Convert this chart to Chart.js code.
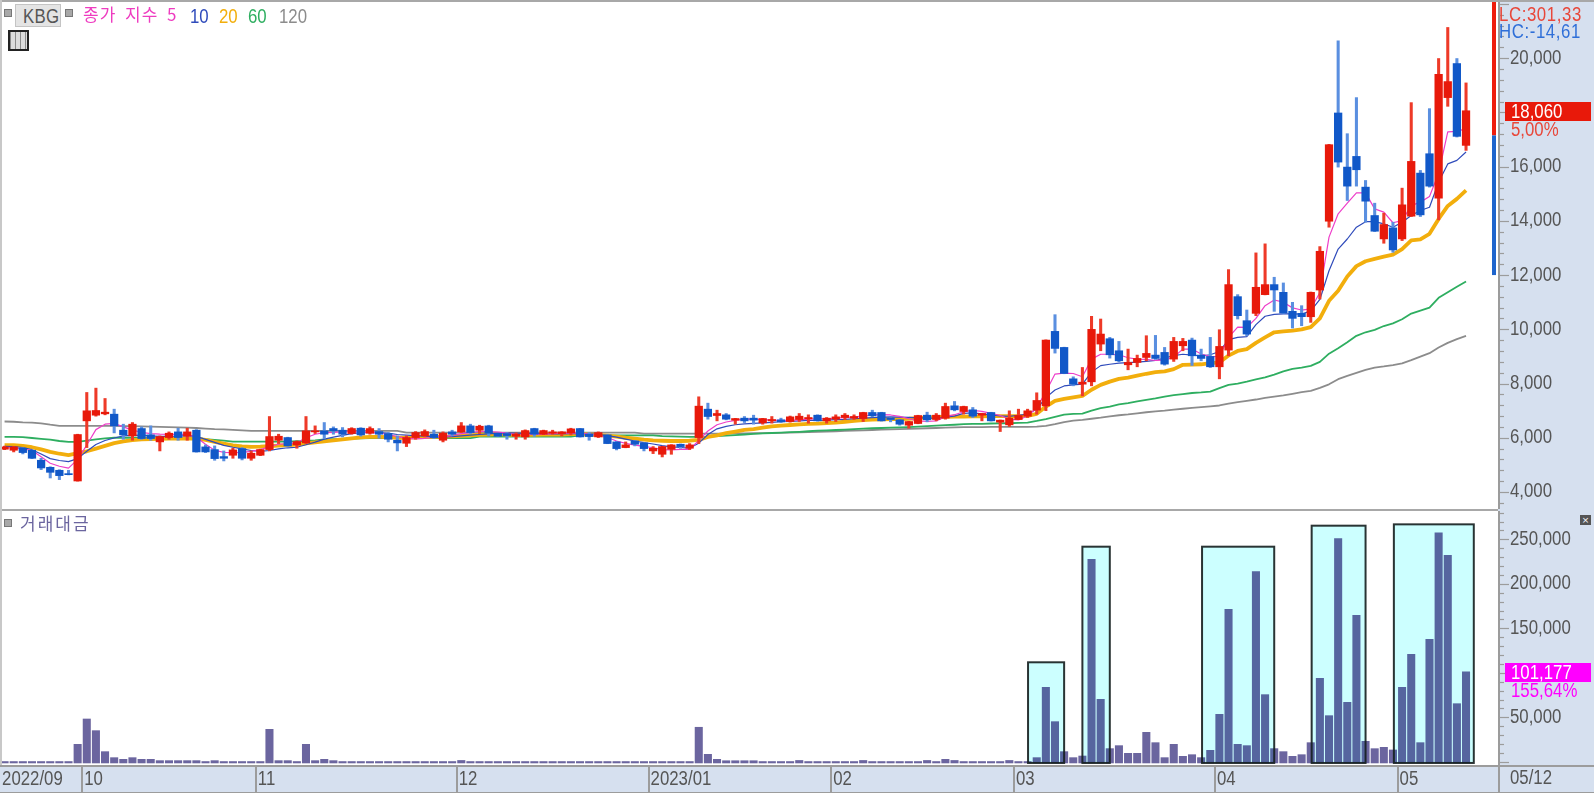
<!DOCTYPE html>
<html lang="ko">
<head>
<meta charset="utf-8">
<title>KBG</title>
<script src="https://cdn.jsdelivr.net/npm/chart.js@4"></script>
<style>
html,body{margin:0;padding:0;background:#D6E0EF;width:1594px;height:793px;overflow:hidden}
canvas{position:absolute;left:0;display:block}
.t{position:absolute;white-space:nowrap;line-height:1}
.n{font-family:"Liberation Sans",sans-serif;font-size:20px;transform:scaleX(.84);transform-origin:0 50%}
.k{font-family:"Noto Sans CJK KR",sans-serif;font-size:17px}
.sq{position:absolute;width:6px;height:6px;background:#a8a8a8;border:1px solid #777}
</style>
</head>
<body>
<canvas id="top" style="top:0" width="1594" height="510"></canvas>
<canvas id="bot" style="top:509px" width="1594" height="284"></canvas>
<div style="position:absolute;left:0;top:0;width:1594px;height:2px;background:#a8a8a8"></div>
<div style="position:absolute;left:0;top:509px;width:1498px;height:2px;background:#a8a8a8"></div>
<div style="position:absolute;left:0;top:0;width:1.5px;height:765px;background:#c8c8c8"></div>
<div class="sq" style="left:4px;top:9px"></div>
<div style="position:absolute;left:15px;top:4px;width:44px;height:21px;background:#e4e4e4;border:1px solid #c4c4c4"></div>
<div class="t n" style="left:23px;top:6px;color:#555;letter-spacing:.3px">KBG</div>
<div class="sq" style="left:65px;top:9px"></div>
<div class="t k" style="left:83px;top:5px;color:#EE3CC0;letter-spacing:1px;word-spacing:3px">종가 지수 5</div>
<div class="t n" style="left:190px;top:6px;color:#2F4BBB">10</div>
<div class="t n" style="left:219px;top:6px;color:#F2AE0C">20</div>
<div class="t n" style="left:248px;top:6px;color:#2EAE60">60</div>
<div class="t n" style="left:279px;top:6px;color:#8C8C8C">120</div>
<div style="position:absolute;left:8px;top:30px;width:17px;height:17px;border:2px solid #222;background:repeating-linear-gradient(90deg,#8a8a8a 0 1px,#dcdcdc 1px 5px)"></div>
<div class="sq" style="left:4px;top:519px"></div>
<div class="t k" style="left:20px;top:514px;color:#6B659F;letter-spacing:2px">거래대금</div>
<div style="position:absolute;left:1580px;top:515px;width:11px;height:10px;background:#555;color:#fff;font:9px/10px 'DejaVu Sans';text-align:center">×</div>
<div class="t n" style="left:1499px;top:4px;color:#E8473A;letter-spacing:0.7px">LC:301,33</div>
<div class="t n" style="left:1499px;top:20.5px;color:#2F6FD8;letter-spacing:0.7px">HC:-14,61</div>
<div class="t n" style="left:1510px;top:767px;color:#555">05/12</div>
<script>
const monthStarts = [0, 9, 28, 50, 71, 91, 111, 133, 153];
const monthLabels = ['2022/09', '10', '11', '12', '2023/01', '02', '03', '04', '05'];
const slots = 164;
const categories = Array.from({length: slots}, (_, i) => String(i));

const open = [
5576,5539,5613,5539,5169,4910,4800,4676,4405,6623,
6832,6882,6869,6278,6069,6340,6106,5847,6007,6216,
6056,6278,5662,5563,5305,5354,5601,5243,5354,5563,
5908,6007,5736,5810,6216,6253,6340,6278,6155,6352,
6167,6228,6154,5908,5797,6007,6068,6130,5908,6216,
6216,6438,6277,6438,6167,6154,6056,6031,6339,6130,
6167,6154,6179,6339,6130,6031,6105,5846,5637,5883,
5810,5514,5390,5575,5760,5612,6007,7054,6820,6845,
6648,6722,6722,6549,6623,6660,6598,6672,6697,6832,
6623,6685,6746,6722,6709,6931,6931,6722,6660,6463,
6525,6832,6672,6722,7177,6968,7030,6832,6931,6574,
6475,6672,6795,7017,7175,9923,9331,8173,7976,8063,
9455,9652,9208,8691,8777,8962,9048,9147,8900,9393,
9602,9048,8999,8617,9233,11204,10317,10588,11278,11648,
11364,10662,10588,10463,11448,13986,17978,15982,16376,15243,
14196,13333,13740,13333,14171,15760,16475,14836,18545,19801,16783];
const close = [
5662,5662,5453,5243,4886,4725,4603,4639,6118,6993,
7005,6943,6438,6106,6500,5970,5970,6044,6167,6007,
6216,5477,5477,5231,5243,5551,5243,5428,5563,6044,
6056,5699,5859,6253,6253,6130,6253,6130,6340,6105,
6339,6130,5945,5810,6007,6191,6228,6007,6167,6130,
6438,6191,6425,6167,6056,6080,6130,6265,6130,6265,
6216,6216,6327,6031,6043,6191,5785,5600,5736,5760,
5600,5612,5674,5736,5674,5736,7165,6783,6894,6685,
6709,6623,6648,6709,6672,6586,6771,6795,6746,6623,
6722,6771,6832,6783,6931,6808,6623,6672,6500,6598,
6820,6660,6832,7153,7030,7153,6795,6894,6623,6648,
6722,6820,6993,7375,9602,9295,8370,7976,8050,9997,
9824,9060,8838,8777,8925,9110,8925,8715,9553,9553,
9023,8925,8617,9368,11648,10502,9824,11549,11648,11450,
10600,10403,10465,11362,12877,16808,16167,15280,15884,14725,
13617,13863,12927,14590,16192,14220,15280,19407,19136,17116,18060];
const high = [
5690,5680,5630,5550,5243,4930,4820,4800,6130,7670,
7830,7448,7054,6500,6561,6401,6438,6069,6216,6352,
6352,6300,5736,5699,5514,5613,5637,5514,5580,6783,
6130,6020,5884,6783,6438,6561,6401,6376,6370,6370,
6401,6339,6191,6068,6068,6228,6290,6278,6216,6278,
6561,6500,6462,6462,6175,6191,6179,6290,6351,6280,
6278,6225,6351,6345,6191,6216,6115,5860,5846,5895,
5820,5674,5685,5745,5770,5785,7510,7276,7017,6894,
6715,6783,6832,6715,6783,6722,6800,6894,6845,6845,
6746,6845,6894,6845,6940,7017,6940,6735,6670,6605,
6830,6943,6894,7276,7338,7165,7116,6905,6940,6655,
6993,7054,7054,7658,9610,10539,9340,8247,8592,10477,
10379,9701,9553,9270,9048,9763,9775,9331,9701,9664,
9676,9270,9701,9984,12202,11278,10711,12818,13151,11919,
11709,10994,10871,11375,13050,16820,20639,17214,18545,15489,
14651,14282,13950,15206,18360,15859,18138,19986,21132,19986,19087];
const low = [
5560,5477,5403,5230,4824,4516,4455,4630,4400,5637,
6796,6845,6179,5945,5908,5945,5908,5514,5945,5908,
5908,5470,5453,5169,5145,5243,5182,5169,5340,5514,
5785,5690,5613,5785,6155,5970,6130,6032,6130,6060,
6130,5982,5846,5514,5674,5945,6031,5970,5846,6068,
6191,6154,6154,6068,6040,5945,5945,5945,6056,6120,
6130,6068,6105,6025,5908,6007,5780,5551,5630,5699,
5514,5415,5292,5390,5612,5563,5785,6685,6623,6660,
6500,6561,6500,6500,6537,6561,6573,6598,6537,6615,
6537,6598,6672,6672,6598,6771,6615,6586,6463,6352,
6515,6586,6623,6685,6993,6869,6746,6623,6615,6229,
6414,6665,6746,6869,7000,9122,8360,7915,7545,7915,
9208,8937,8802,8506,8617,8838,8888,8678,8814,9208,
8666,8838,8592,8173,9023,10379,9763,10502,11270,10662,
10576,10046,10132,10255,11116,13765,15982,14750,15280,13949,
13605,13173,12841,13272,14160,14159,15243,14036,18224,17091,16598];

const ma5 = [
5640,5620,5590,5530,5300,5060,4950,4880,5200,5730,
6300,6500,6530,6400,6280,6200,6150,6130,6120,6130,
6120,6020,5760,5540,5460,5450,5460,5500,5560,5670,
5760,5780,5810,6000,6130,6190,6200,6220,6230,6220,
6200,6180,6120,6040,5980,5960,5980,6020,6040,6090,
6150,6190,6240,6230,6210,6170,6120,6110,6120,6130,
6150,6170,6180,6170,6130,6090,6010,5880,5790,5730,
5680,5630,5560,5550,5570,5570,5900,6250,6480,6580,
6640,6690,6690,6670,6650,6640,6640,6660,6690,6700,
6700,6720,6740,6770,6800,6840,6850,6840,6790,6700,
6620,6600,6620,6780,6850,6960,7010,6970,6900,6820,
6680,6660,6800,7100,7700,8350,8380,8370,8250,8900,
9080,9080,9060,8950,8900,8890,8850,8860,8980,9270,
9270,9090,8990,9000,9700,10080,10070,10400,10870,11080,
11000,10790,10710,10750,11360,13400,14260,14650,15030,15030,
14440,14320,13930,14010,14560,14690,14900,15750,17280,17300,17400];
const ma10 = [
5680,5670,5640,5560,5400,5230,5160,5120,5230,5500,
5750,5900,5990,6070,6090,6100,6070,6050,6050,6060,
6080,6050,5940,5830,5720,5650,5590,5530,5500,5530,
5590,5630,5650,5740,5840,5950,6020,6090,6150,6190,
6200,6190,6170,6120,6100,6080,6060,6030,6020,6040,
6070,6100,6120,6140,6170,6180,6170,6160,6160,6150,
6140,6140,6150,6150,6140,6120,6080,6020,5950,5880,
5820,5770,5710,5660,5640,5620,5800,6120,6330,6420,
6480,6510,6530,6550,6570,6590,6600,6620,6640,6640,
6650,6670,6680,6700,6720,6740,6760,6770,6760,6750,
6730,6730,6710,6760,6800,6900,6920,6880,6840,6810,
6790,6830,6870,7060,7480,7760,7910,7950,7980,8420,
8660,8710,8750,8770,8790,8820,8850,8940,9030,9080,
9050,9020,9060,9180,9620,9700,9730,10170,10480,10550,
10570,10570,10560,10680,11100,12160,12960,13330,13765,13970,
13970,13890,13765,13950,14200,14380,14500,15430,16100,16230,16540];
const ma20 = [
5730,5730,5700,5650,5570,5480,5410,5360,5430,5500,
5600,5700,5800,5870,5910,5940,5950,5960,5970,5970,
5970,5970,5920,5850,5780,5720,5680,5660,5670,5690,
5710,5730,5750,5790,5830,5870,5900,5940,5980,6010,
6030,6030,6020,6000,6000,6010,6020,6030,6040,6050,
6070,6090,6110,6120,6130,6120,6110,6110,6110,6120,
6120,6120,6130,6130,6120,6100,6080,6040,6000,5970,
5930,5900,5890,5880,5880,5890,5920,6030,6090,6170,
6230,6290,6320,6370,6420,6450,6470,6490,6510,6520,
6540,6560,6590,6620,6650,6670,6680,6690,6690,6700,
6720,6750,6760,6770,6780,6780,6790,6790,6800,6800,
6800,6800,6810,6880,7150,7360,7430,7490,7540,7770,
7950,8070,8170,8220,8290,8360,8420,8450,8530,8690,
8700,8710,8750,8780,9030,9200,9270,9500,9700,9890,
9920,9950,10000,10080,10400,11050,11420,11950,12330,12510,
12600,12680,12750,12960,13280,13320,13520,14070,14550,14810,15120];
const ma60 = [
6030,6030,6020,5990,5960,5930,5880,5850,5850,5890,
5940,5980,6000,6000,6000,6000,6000,6000,6000,5990,
5990,5990,5950,5920,5890,5860,5860,5860,5860,5860,
5860,5860,5870,5880,5900,5940,5950,5960,5970,5980,
5985,5985,5985,5985,5985,5985,5985,5985,5985,5985,
5985,5985,6040,6040,6040,6040,6040,6040,6040,6040,
6040,6040,6040,6090,6090,6090,6090,6090,6090,6090,
6090,6090,6060,6050,6040,6030,6030,6040,6060,6080,
6100,6120,6140,6160,6175,6190,6205,6220,6240,6260,
6270,6285,6300,6320,6335,6350,6360,6370,6380,6395,
6410,6430,6450,6465,6480,6500,6510,6515,6525,6530,
6535,6545,6560,6620,6690,6770,6850,6880,6890,7000,
7090,7150,7230,7280,7340,7400,7450,7520,7570,7610,
7650,7670,7700,7830,7950,8000,8070,8150,8230,8330,
8450,8540,8590,8650,8800,9100,9300,9520,9760,9890,
9980,10120,10220,10370,10580,10690,10800,11160,11370,11570,11760];
const ma120 = [
6600,6590,6570,6560,6530,6480,6440,6440,6440,6440,
6440,6440,6440,6430,6430,6420,6410,6400,6390,6380,
6370,6360,6340,6320,6310,6290,6270,6255,6250,6250,
6250,6250,6250,6250,6250,6250,6250,6250,6250,6250,
6250,6250,6250,6250,6190,6190,6190,6190,6190,6190,
6190,6190,6190,6190,6190,6190,6190,6190,6190,6190,
6190,6190,6190,6190,6190,6190,6190,6190,6190,6190,
6155,6155,6155,6155,6155,6155,6150,6150,6150,6155,
6160,6160,6165,6170,6175,6180,6190,6200,6210,6220,
6230,6240,6250,6260,6270,6285,6300,6310,6315,6325,
6340,6350,6360,6370,6380,6390,6395,6395,6400,6400,
6400,6400,6400,6410,6440,6500,6580,6630,6660,6700,
6740,6790,6830,6860,6900,6940,6970,7000,7040,7070,
7100,7130,7160,7190,7260,7310,7360,7410,7470,7520,
7560,7620,7680,7730,7840,7970,8160,8280,8390,8500,
8590,8630,8680,8740,8860,8990,9120,9330,9500,9640,9760];

const volume = [
300,300,300,300,300,300,300,300,19600,48100,
35000,11400,4650,2800,4650,2800,2800,1300,1300,1300,
1300,1300,300,1300,300,300,300,300,300,36500,
1300,1300,300,19600,1300,2800,1300,300,300,300,
300,300,300,300,300,300,300,300,300,300,
1500,300,300,300,300,300,300,300,300,300,
300,300,300,300,300,300,300,300,300,300,
300,300,300,300,300,300,38800,8400,2800,1200,
1200,1200,1200,300,300,300,300,1500,300,300,
300,300,300,300,1500,300,300,300,300,300,
300,1500,300,2800,1500,300,300,300,300,300,
1500,300,300,4670,83700,45100,11400,4670,6500,227500,
70200,14800,18150,9500,9500,33100,21500,4670,19650,6150,
8000,4670,12900,53350,171300,19650,18150,213600,75450,14800,
11400,6150,8000,21500,93800,51830,250700,66800,164600,23000,
14760,16250,13300,83700,120700,21500,137600,257400,232000,65300,101177];

const boxFrom = [112.05, 118, 131.1, 143.1, 152.1];
const boxTo   = [116, 121, 139, 149, 160.85];
const boxTop  = [111800, 241700, 241700, 265300, 266800];

const priceTicks = [3600,4000,4400,4800,5200,5600,6000,6400,6800,7200,7600,8000,8400,8800,9200,9600,10000,10400,10800,11200,11600,12000,12400,12800,13200,13600,14000,14400,14800,15200,15600,16000,16400,16800,17200,17600,18000,18400,18800,19200,19600,20000,20400,20800,21200,21600,22000];
const priceMajor = [4000, 6000, 8000, 10000, 12000, 14000, 16000, 20000];
const volumeTicks = [0,10000,20000,30000,40000,50000,60000,70000,80000,90000,100000,110000,120000,130000,140000,150000,160000,170000,180000,190000,200000,210000,220000,230000,240000,250000,260000,270000,280000];
const volumeMajor = [50000, 150000, 200000, 250000];
const lastPrice = 18060, lastPriceChange = '5,00%';
const lastVolume = 101177, lastVolumeChange = '155,64%';
const bandTop = 22070, bandMid = 17150, bandLow = 12000;

const RED = '#E8190A', BLUE = '#1158C8', RED_W = '#EE3A28', BLUE_W = '#5A8FE0';
const AXIS = '#9c9c9c', TXT = '#555555';
const face = '"Liberation Sans",sans-serif';
const fmt = v => v.toLocaleString('en-US');

Chart.defaults.animation = false;
Chart.defaults.font.family = face;
Chart.defaults.font.size = 20;
Chart.defaults.color = TXT;

/* The reference uses a condensed face: draw all canvas text narrowed from its anchor. */
function narrowText(canvas) {
  const ctx = canvas.getContext('2d'), base = ctx.fillText;
  ctx.fillText = function (t, x, y, w) {
    ctx.save();
    ctx.translate(x, 0);
    ctx.scale(0.84, 1);
    if (w === undefined) base.call(ctx, t, 0, y); else base.call(ctx, t, 0, y, w);
    ctx.restore();
  };
}

function flatAxisX() {
  return {
    offset: true, grid: {display: false}, border: {display: false},
    afterFit(s) { s.paddingLeft = 0; s.paddingRight = 0; }
  };
}
function rightAxis(min, max, tickList, major) {
  return {
    position: 'right', min, max,
    grid: {display: false, drawTicks: false}, border: {display: false},
    afterBuildTicks(s) { s.ticks = tickList.map(value => ({value})); },
    ticks: {
      autoSkip: false, padding: 12, crossAlign: 'near', color: TXT,
      callback: v => major.includes(v) ? fmt(v) : ''
    },
    afterFit(s) { s.width = 96; s.paddingTop = 0; s.paddingBottom = 0; }
  };
}
const paper = {
  id: 'paper',
  beforeDraw(c) {
    const a = c.chartArea, x = c.ctx;
    x.save(); x.fillStyle = '#fff';
    x.fillRect(a.left, a.top, a.right - a.left, a.bottom - a.top);
    x.restore();
  }
};
function axisTicks(id, majorStep) {
  return {
    id: 'axisTicks',
    afterDraw(c) {
      const s = c.scales[id], a = c.chartArea, x = c.ctx;
      x.save(); x.strokeStyle = AXIS; x.lineWidth = 2;
      x.beginPath(); x.moveTo(a.right + 1, a.top); x.lineTo(a.right + 1, a.bottom); x.stroke();
      x.lineWidth = 1.2;
      s.ticks.forEach(t => {
        const y = Math.round(s.getPixelForValue(t.value)) + .5;
        const len = t.value % majorStep === 0 ? 10 : 5;
        x.beginPath(); x.moveTo(a.right + 1, y); x.lineTo(a.right + 1 + len, y); x.stroke();
      });
      x.restore();
    }
  };
}
function badge(c, scaleId, value, fill, pct, pctColor) {
  const s = c.scales[scaleId], x = c.ctx, y = Math.round(s.getPixelForValue(value));
  x.save();
  x.fillStyle = fill; x.fillRect(1505, y - 9, 86, 19);
  x.font = '20px ' + face; x.textBaseline = 'middle'; x.textAlign = 'left';
  x.fillStyle = '#fff'; x.fillText(fmt(value), 1511, y + 1);
  x.fillStyle = pctColor; x.fillText(pct, 1511, y + 19);
  x.restore();
}

const candleColor = (i, up, down) => close[i] >= open[i] ? up : down;
const ohlcWicks = high.map((h, i) => [low[i], h]);
const ohlcBodies = open.map((o, i) => [o, close[i]]);
const maLine = (label, data, color, width, order) => ({
  type: 'line', label, data, borderColor: color, borderWidth: width,
  pointRadius: 0, tension: 0, order, spanGaps: false, borderJoinStyle: 'round'
});

const topCanvas = document.getElementById('top'), botCanvas = document.getElementById('bot');
narrowText(topCanvas); narrowText(botCanvas);

new Chart(topCanvas, {
  data: {
    labels: categories,
    datasets: [
      {type: 'bar', label: 'body', data: ohlcBodies, order: 0, grouped: false, barThickness: 7.6,
       backgroundColor: ctx => candleColor(ctx.dataIndex, RED, BLUE)},
      {type: 'bar', label: 'range', data: ohlcWicks, order: 1, grouped: false, barThickness: 2.4,
       backgroundColor: ctx => candleColor(ctx.dataIndex, RED_W, BLUE_W)},
      maLine('5', ma5, '#EE3EC9', 1.2, 6),
      maLine('10', ma10, '#2F4BBB', 1.2, 7),
      maLine('20', ma20, '#F2AE0C', 3.8, 8),
      maLine('60', ma60, '#2EAE60', 1.8, 9),
      maLine('120', ma120, '#8C8C8C', 1.8, 10)
    ]
  },
  options: {
    responsive: false, animation: false,
    layout: {padding: {top: 2, bottom: 1, left: 0, right: 0}},
    plugins: {legend: {display: false}, tooltip: {enabled: false}},
    scales: {
      x: Object.assign(flatAxisX(), {display: false}),
      y: rightAxis(3372, 22071, priceTicks, priceMajor)
    }
  },
  plugins: [paper, axisTicks('y', 2000), {
    id: 'overlay',
    afterDraw(c) {
      const s = c.scales.y, x = c.ctx;
      x.save();
      x.fillStyle = '#EE1C0C';
      x.fillRect(1492, s.getPixelForValue(bandTop), 4, s.getPixelForValue(bandMid) - s.getPixelForValue(bandTop));
      x.fillStyle = '#1E64CC';
      x.fillRect(1492, s.getPixelForValue(bandMid), 4, s.getPixelForValue(bandLow) - s.getPixelForValue(bandMid));
      x.restore();
      badge(c, 'y', lastPrice, '#E8190A', lastPriceChange, '#E8473A');
    }
  }]
});

new Chart(botCanvas, {
  data: {
    labels: categories,
    datasets: [{
      type: 'bar', label: '거래대금', data: volume, base: -1300, grouped: false, yAxisID: 'v',
      barThickness: 7.4, backgroundColor: '#6B659F'
    }]
  },
  options: {
    responsive: false, animation: false,
    layout: {padding: {top: 2, bottom: 0, left: 0, right: 0}},
    plugins: {legend: {display: false}, tooltip: {enabled: false}},
    scales: {
      x: Object.assign(flatAxisX(), {
        ticks: {
          autoSkip: false, maxRotation: 0, minRotation: 0, align: 'start', labelOffset: -2.5,
          padding: -6, color: TXT,
          callback: (v, i) => { const k = monthStarts.indexOf(i); return k >= 0 ? monthLabels[k] : ''; }
        },
        afterFit(s) { s.height = 28; s.paddingLeft = 0; s.paddingRight = 0; }
      }),
      v: rightAxis(-3595, 281800, volumeTicks, volumeMajor)
    }
  },
  plugins: [paper, axisTicks('v', 50000), {
    id: 'overlay',
    afterDatasetsDraw(c) {
      const xs = c.scales.x, ys = c.scales.v, x = c.ctx;
      const base = ys.getPixelForValue(-1300);
      x.save();
      boxFrom.forEach((f, i) => {
        const l = xs.getPixelForValue(f), r = xs.getPixelForValue(boxTo[i]), t = ys.getPixelForValue(boxTop[i]);
        x.globalCompositeOperation = 'multiply';
        x.fillStyle = '#CCFFFF'; x.fillRect(l, t, r - l, base - t);
        x.globalCompositeOperation = 'source-over';
        x.strokeStyle = 'rgba(20,30,30,.9)'; x.lineWidth = 2; x.strokeRect(l, t, r - l, base - t);
      });
      x.restore();
    },
    afterDraw(c) {
      const xs = c.scales.x, a = c.chartArea, x = c.ctx;
      const step = xs.getPixelForValue(1) - xs.getPixelForValue(0);
      x.save(); x.fillStyle = AXIS;
      x.fillRect(0, a.bottom, 1594, 2);
      x.fillRect(0, 283, 1594, 1);
      x.fillRect(a.right, a.bottom, 2, 27);
      monthStarts.slice(1).forEach(i => {
        x.fillRect(Math.round(xs.getPixelForValue(i) - step / 2) - 1, a.bottom, 2, 27);
      });
      x.restore();
      badge(c, 'v', lastVolume, '#FF00FF', lastVolumeChange, '#FF00FF');
    }
  }]
});
</script>
</body>
</html>
